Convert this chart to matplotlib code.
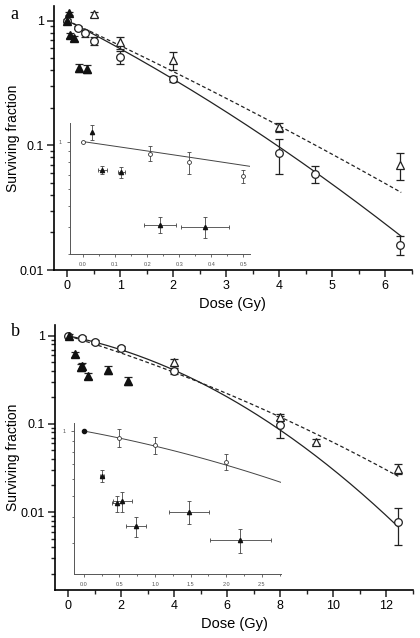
import numpy as np
import matplotlib.pyplot as plt
from matplotlib.ticker import LogLocator, NullFormatter, FixedLocator, MultipleLocator

plt.rcParams['font.family'] = ['Liberation Sans', 'DejaVu Sans']

# ---------------- panel a data ----------------
a_circ_x = [0.0, 0.21, 0.33, 0.5, 1.0, 2.0, 4.0, 4.68, 6.28]
a_circ_y = [1.0, 0.88, 0.79, 0.69, 0.51, 0.34, 0.086, 0.059, 0.016]
a_circ_e = [0.0, 0.03, 0.05, 0.05, 0.06, 0.02, 0.027, 0.0095, 0.0027]

a_otri_x = [0.5, 1.0, 2.0, 4.0, 6.28]
a_otri_y = [1.12, 0.67, 0.48, 0.14, 0.07]
a_otri_e = [0.05, 0.075, 0.075, 0.012, 0.017]

a_ftri_x = [0.0, 0.03, 0.06, 0.12, 0.23, 0.37]
a_ftri_y = [1.0, 1.14, 0.76, 0.72, 0.42, 0.41]
a_ftri_e = [0.03, 0.04, 0.03, 0.03, 0.03, 0.03]

# inset a (low dose)
ai_circ_x = [0.0, 0.21, 0.33, 0.5]
ai_circ_y = [1.0, 0.88, 0.80, 0.69]
ai_circ_e = [0.0, 0.07, 0.09, 0.05]
ai_tri_x = [0.03, 0.06, 0.12, 0.24, 0.38]
ai_tri_y = [1.11, 0.74, 0.72, 0.41, 0.40]
ai_tri_ye = [0.09, 0.03, 0.04, 0.035, 0.045]
ai_tri_xe = [0.0, 0.014, 0.01, 0.05, 0.075]

# LQ fits: log10 S = -alpha*D - beta*D^2
a_fit_solid = (0.2166, 0.0092)
a_fit_dash = (0.198, 0.0033)

# ---------------- panel b data ----------------
b_circ_x = [0.0, 0.5, 1.0, 2.0, 4.0, 8.0, 12.45]
b_circ_y = [1.0, 0.95, 0.85, 0.73, 0.40, 0.097, 0.0077]
b_circ_e = [0.0, 0.06, 0.04, 0.04, 0.03, 0.027, 0.0035]

b_otri_x = [4.0, 8.0, 9.36, 12.45]
b_otri_y = [0.50, 0.12, 0.063, 0.031]
b_otri_e = [0.04, 0.01, 0.004, 0.004]

b_ftri_x = [0.04, 0.26, 0.47, 0.53, 0.75, 1.49, 2.25]
b_ftri_y = [1.0, 0.62, 0.44, 0.45, 0.35, 0.41, 0.31]
b_ftri_e = [0.04, 0.04, 0.04, 0.04, 0.03, 0.04, 0.03]

bi_circ_x = [0.0, 0.5, 1.0, 2.0]
bi_circ_y = [1.0, 0.93, 0.86, 0.72]
bi_circ_e = [0.0, 0.09, 0.08, 0.06]
bi_tri_x = [0.25, 0.47, 0.54, 0.73, 1.48, 2.2]
bi_tri_y = [0.62, 0.46, 0.47, 0.36, 0.42, 0.31]
bi_tri_ye = [0.04, 0.04, 0.05, 0.04, 0.05, 0.04]
bi_tri_xe = [0.03, 0.07, 0.13, 0.14, 0.28, 0.43]

b_fit_solid = (0.0611, 0.00909)
b_fit_dash = (0.092, 0.0029)


def lq(d, p):
    return 10 ** (-p[0] * d - p[1] * d ** 2)


def style_main(ax, xmaj, xmin):
    ax.set_yscale('log')
    for s in ['top', 'right']:
        ax.spines[s].set_visible(False)
    for s in ['left', 'bottom']:
        ax.spines[s].set_linewidth(1.2)
    ax.xaxis.set_major_locator(MultipleLocator(xmaj))
    ax.xaxis.set_minor_locator(MultipleLocator(xmin))
    ax.yaxis.set_major_locator(LogLocator(base=10, numticks=10))
    ax.yaxis.set_minor_locator(LogLocator(base=10, subs=np.arange(2, 10), numticks=10))
    ax.yaxis.set_minor_formatter(NullFormatter())
    ax.tick_params(which='major', direction='out', length=5, width=1.1, labelsize=9, color='#222', pad=2.5)
    ax.tick_params(which='minor', direction='out', length=3, width=1.0, color='#222')
    ax.yaxis.set_major_formatter(plt.FuncFormatter(lambda v, p: '%g' % v))


def style_inset(ax):
    ax.set_yscale('log')
    for s in ['top', 'right']:
        ax.spines[s].set_visible(False)
    for s in ['left', 'bottom']:
        ax.spines[s].set_linewidth(0.7)
        ax.spines[s].set_color('#555')
    ax.yaxis.set_major_locator(FixedLocator([1.0]))
    ax.yaxis.set_minor_locator(LogLocator(base=10, subs=np.arange(2, 10), numticks=10))
    ax.yaxis.set_minor_formatter(NullFormatter())
    ax.yaxis.set_major_formatter(plt.FuncFormatter(lambda v, p: '%g' % v))
    ax.tick_params(which='both', direction='out', labelsize=4, color='#555', labelcolor='#555', width=0.6)
    ax.tick_params(which='major', length=2.5)
    ax.tick_params(which='minor', length=1.5)
    ax.patch.set_alpha(0)


ekw = dict(linestyle='none', ecolor='#222', elinewidth=0.9, capsize=3, capthick=0.9)
ikw = dict(linestyle='none', ecolor='#444', elinewidth=0.6, capsize=1.5, capthick=0.6)

fig = plt.figure(figsize=(4.2, 6.38), dpi=100)

# ================= panel a =================
ax = fig.add_axes([0.1286, 0.5768, 0.852, 0.4132])
d = np.linspace(0, 6.3, 200)
ax.plot(d, lq(d, a_fit_solid), color='#222', lw=0.9)
ax.plot(d, lq(d, a_fit_dash), color='#222', lw=0.9, ls=(0, (3, 2)))
ax.errorbar(a_circ_x, a_circ_y, yerr=a_circ_e, marker='o', ms=5.5, mfc='white', mec='#222', mew=0.9, **ekw)
ax.errorbar(a_otri_x, a_otri_y, yerr=a_otri_e, marker='^', ms=6, mfc='white', mec='#222', mew=0.9, **ekw)
ax.errorbar(a_ftri_x, a_ftri_y, yerr=a_ftri_e, marker='^', ms=6, mfc='#111', mec='#111', **ekw)
style_main(ax, 1, 0.5)
ax.set_xlim(-0.25, 6.5)
ax.set_ylim(0.01, 1.3)
ax.set_ylabel('Surviving fraction', fontsize=10)
ax.yaxis.set_label_coords(-0.096, 0.5)
ax.set_xlabel('Dose (Gy)', fontsize=10.5, labelpad=3)
fig.text(0.025, 0.978, 'a', fontsize=13, family='Liberation Serif', va='center')

axi = fig.add_axes([0.1667, 0.6019, 0.4283, 0.2053])
di = np.linspace(0, 0.52, 50)
axi.plot(di, lq(di, a_fit_solid), color='#444', lw=0.7)
axi.errorbar(ai_circ_x, ai_circ_y, yerr=ai_circ_e, marker='o', ms=2.8, mfc='white', mec='#333', mew=0.6, **ikw)
axi.errorbar(ai_tri_x, ai_tri_y, yerr=ai_tri_ye, xerr=ai_tri_xe, marker='^', ms=3, mfc='#111', mec='#111', **ikw)
style_inset(axi)
axi.set_xlim(-0.04, 0.52)
axi.set_ylim(0.3, 1.22)
axi.xaxis.set_major_locator(MultipleLocator(0.1))
axi.xaxis.set_minor_locator(MultipleLocator(0.05))
axi.xaxis.set_major_formatter(plt.FuncFormatter(lambda v, p: '%.1f' % v))

# ================= panel b =================
bx = fig.add_axes([0.131, 0.0752, 0.852, 0.4154])
d = np.linspace(0, 12.45, 200)
bx.plot(d, lq(d, b_fit_solid), color='#222', lw=0.9)
bx.plot(d, lq(d, b_fit_dash), color='#222', lw=0.9, ls=(0, (3, 2)))
bx.errorbar(b_circ_x, b_circ_y, yerr=b_circ_e, marker='o', ms=5.5, mfc='white', mec='#222', mew=0.9, **ekw)
bx.errorbar(b_otri_x, b_otri_y, yerr=b_otri_e, marker='^', ms=6, mfc='white', mec='#222', mew=0.9, **ekw)
bx.errorbar(b_ftri_x, b_ftri_y, yerr=b_ftri_e, marker='^', ms=6, mfc='#111', mec='#111', **ekw)
style_main(bx, 2, 1)
bx.set_xlim(-0.5, 13)
bx.set_ylim(0.0013, 1.33)
bx.set_ylabel('Surviving fraction', fontsize=10)
bx.yaxis.set_label_coords(-0.099, 0.5)
bx.set_xlabel('Dose (Gy)', fontsize=10.5, labelpad=3)
fig.text(0.025, 0.48, 'b', fontsize=13, family='Liberation Serif', va='center')

bxi = fig.add_axes([0.176, 0.1003, 0.493, 0.2367])
di = np.linspace(0, 2.77, 50)
bxi.plot(di, lq(di, b_fit_solid), color='#444', lw=0.7)
bxi.errorbar(bi_circ_x[1:], bi_circ_y[1:], yerr=bi_circ_e[1:], marker='o', ms=2.8, mfc='white', mec='#333', mew=0.6, **ikw)
bxi.plot(bi_circ_x[:1], bi_circ_y[:1], marker='o', ms=3, color='#111', ls='none')
bxi.errorbar(bi_tri_x, bi_tri_y, yerr=bi_tri_ye, xerr=bi_tri_xe, marker='^', ms=3, mfc='#111', mec='#111', **ikw)
style_inset(bxi)
bxi.set_xlim(-0.14, 2.77)
bxi.set_ylim(0.216, 1.09)
bxi.xaxis.set_major_locator(MultipleLocator(0.5))
bxi.xaxis.set_minor_locator(MultipleLocator(0.25))
bxi.xaxis.set_major_formatter(plt.FuncFormatter(lambda v, p: '%.1f' % v))

fig.savefig('out.png', dpi=100)
